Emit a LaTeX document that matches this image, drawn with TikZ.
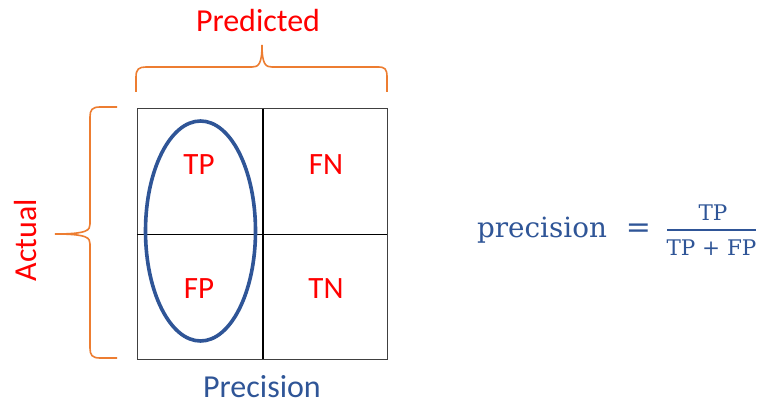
\documentclass[tikz,border=0pt]{standalone}
\usepackage{fontspec}
\newfontfamily\calibrifont{Carlito}
\newfontfamily\cambfont{DejaVu Serif}
\definecolor{pred}{HTML}{FF0000}
\definecolor{pblue}{HTML}{2F5597}
\definecolor{porange}{HTML}{ED7D31}
\begin{document}
\begin{tikzpicture}[x=1pt,y=-1pt,
  lbl/.style={text=pred,font=\calibrifont\fontsize{32}{38}\selectfont,inner sep=0pt,anchor=base},
  cell/.style={text=pred,font=\calibrifont\fontsize{31}{37}\selectfont,inner sep=0pt,anchor=base},
  brace/.style={draw=porange,line width=1.6pt},
  frm/.style={text=pblue,inner sep=0pt,anchor=base}]
\useasboundingbox[fill=white] (0,0) rectangle (759,403);
% grid
\draw[draw=black!75,line width=1pt] (137,109) rectangle (387,359);
\draw[black,line width=0.9pt] (137,234) -- (387,234);
\draw[black,line width=2pt] (263,109) -- (263,359);
% ellipse
\draw[pblue,line width=3.6pt] (200.5,231) ellipse [x radius=55, y radius=110];
% cells
\node[cell] (tp) at (199,175) {TP};
\node[cell] (fn) at (326,175) {FN};
\node[cell] (fp) at (199,298) {FP};
\node[cell] (tn) at (326,298) {TN};
% labels
\node[lbl] (pred) at (258,32) {Predicted};
\node[lbl,rotate=90] (act) at (36,240) {Actual};
\node[lbl,text=pblue] (prec) at (262,397) {Precision};
% top brace
\draw[brace] (136,92) -- (136,77) .. controls (136,69) and (139,67) .. (146,67)
  -- (252,67) .. controls (258,67) and (262,65) .. (262,45)
  .. controls (262,65) and (266,67) .. (272,67)
  -- (378,67) .. controls (385,67) and (387,69) .. (387,77) -- (387,92);
% left brace
\draw[brace] (117,107) -- (100,107) .. controls (92,107) and (90,110) .. (90,117)
  -- (90,224) .. controls (90,230) and (88,234) .. (55,234)
  .. controls (88,234) and (90,238) .. (90,244)
  -- (90,348) .. controls (90,355) and (92,358) .. (100,358) -- (117,358);
% formula
\node[frm,font=\cambfont\fontsize{27.8}{33}\selectfont] (precw) at (542,237) {precision};
\node[frm,font=\cambfont\fontsize{30}{36}\selectfont] (eq) at (638.5,237) {=};
\node[frm,font=\cambfont\fontsize{21.5}{26}\selectfont] (num) at (713,220) {TP};
\node[frm,font=\cambfont\fontsize{21.5}{26}\selectfont] (den) at (711.5,255) {TP + FP};
\draw[pblue,line width=1.8pt] (667,230) -- (756,230);
\end{tikzpicture}
\end{document}
